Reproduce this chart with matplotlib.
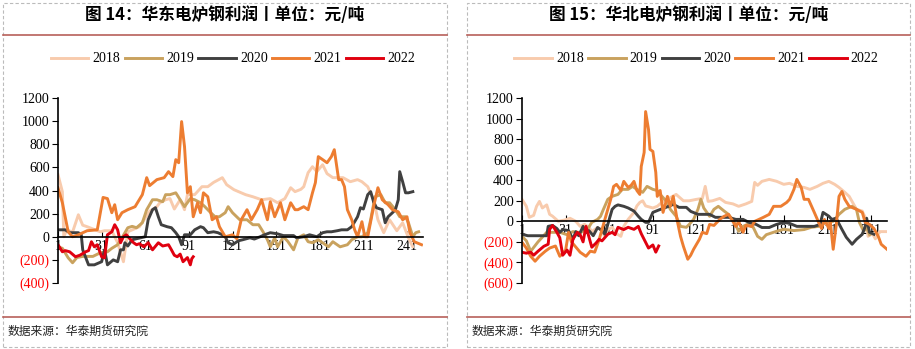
import matplotlib.pyplot as plt
from matplotlib.lines import Line2D
from matplotlib.patches import Rectangle

# ---- data: (day, profit) ----
years = ["2018", "2019", "2020", "2021", "2022"]
colors = ["#F8CBAD", "#C9A25E", "#404040", "#ED7D31", "#E0000F"]

# East China (华东)
east_2018 = [(1, 537), (4, 390), (5, 0), (7, 60), (11, 40), (15, 190), (18, 100), (21, 87), (30, 43),
             (33, 52), (38, 52), (42, -52), (46, -216), (49, 43), (57, 87), (64, 220), (69, 260),
             (71, 294), (75, 320), (78, 330), (81, 240), (85, 320), (88, 234), (90, 364), (95, 364),
             (100, 433), (104, 433), (108, 470), (114, 511), (117, 450), (122, 407), (130, 364),
             (135, 346), (141, 320), (147, 330), (152, 294), (157, 330), (161, 424), (164, 390),
             (168, 410), (170, 433), (173, 554), (176, 606), (179, 563), (183, 623), (186, 546),
             (190, 511), (197, 511), (202, 476), (207, 494), (210, 476), (214, 433), (218, 320),
             (221, 147), (225, 35), (229, 147), (234, 52), (238, 121), (242, -9), (245, -87)]
east_2019 = [(1, -87), (4, -100), (8, -182), (11, -225), (14, -180), (18, -170), (25, -170), (30, -139),
             (35, -130), (38, -100), (42, -69), (45, -9), (49, 78), (52, 90), (55, 78), (59, 121),
             (62, 234), (66, 320), (69, 320), (73, 303), (75, 364), (78, 364), (82, 380), (85, 320),
             (88, 260), (92, 330), (95, 320), (99, 294), (102, 260), (106, 208), (109, 173), (112, 173),
             (116, 208), (118, 260), (121, 208), (126, 147), (131, 147), (135, 104), (139, 104),
             (142, 43), (145, -26), (147, -87), (150, -9), (152, -87), (156, 0), (159, -40), (163, -113),
             (166, -9), (170, 17), (173, -43), (176, -52), (180, -26), (183, -52), (187, -87), (190, -43),
             (195, -87), (200, -69), (203, -26), (207, 0), (210, 0), (214, 35), (216, 147), (219, 346),
             (223, 364), (226, 294), (229, 294), (233, 234), (236, 173), (240, 173), (242, 121),
             (245, 0), (247, 35), (249, 43)]
east_2020 = [(1, 60), (6, 60), (9, 35), (15, 35), (17, 17), (18, -113), (22, -243), (26, -243), (31, -216),
             (33, -113), (35, -243), (39, -200), (42, -216), (44, -113), (46, -113), (47, -52), (49, -80),
             (52, -26), (55, -17), (61, 0), (63, 147), (66, 234), (68, 251), (70, 173), (72, 104),
             (76, 87), (79, 78), (82, 35), (84, 0), (86, -69), (88, 17), (92, 17), (95, 60), (99, 87),
             (101, 78), (104, 35), (108, 43), (111, 35), (114, 17), (116, 0), (118, -52), (121, -69),
             (125, -35), (128, -26), (133, -9), (136, -20), (140, 0), (143, 17), (147, 35), (152, 25),
             (156, 10), (159, 10), (163, 10), (165, -9), (170, 0), (174, 17), (179, 0), (183, 35),
             (186, 43), (189, 43), (193, 52), (196, 60), (200, 60), (203, 87), (207, 173), (209, 251),
             (211, 240), (214, 364), (216, 390), (218, 303), (220, 251), (224, 234), (226, 121),
             (228, 173), (231, 208), (233, 234), (235, 320), (236, 563), (238, 476), (240, 380),
             (242, 380), (245, 390)]
east_2021 = [(1, 424), (4, 294), (8, 43), (11, 0), (15, 17), (21, 52), (28, 60), (32, 340), (35, 330),
             (38, 208), (40, 277), (42, 147), (45, 208), (49, 234), (54, 260), (59, 364), (62, 511),
             (64, 442), (69, 494), (74, 511), (77, 563), (80, 520), (82, 667), (84, 640), (86, 996),
             (88, 780), (90, 380), (92, 433), (94, 173), (97, 294), (99, 208), (101, 380), (104, 346),
             (107, 147), (110, 173), (112, 87), (116, 0), (121, 17), (124, -17), (127, 147), (131, 234),
             (134, 147), (138, 234), (141, 320), (145, 147), (147, 303), (150, 173), (154, 294),
             (157, 147), (161, 294), (164, 234), (166, 234), (170, 260), (173, 234), (176, 380),
             (178, 468), (180, 693), (183, 667), (186, 640), (189, 693), (191, 753), (194, 494),
             (196, 494), (198, 433), (200, 234), (203, 147), (205, 60), (207, 0), (210, 130), (212, 0),
             (214, 0), (218, 260), (221, 424), (224, 320), (228, 277), (231, 234), (235, 216),
             (238, 147), (241, 173), (243, 35), (246, -43), (251, -69)]
east_2022 = [(1, -69), (4, -130), (6, -120), (9, -130), (13, -173), (16, -160), (20, -130), (22, -120),
             (24, -43), (26, -87), (28, -69), (31, -173), (33, -182), (35, 17), (38, 43), (40, 104),
             (42, 60), (44, -52), (46, 0), (48, 17), (51, -26), (53, -52), (55, -69), (57, -60),
             (60, -87), (63, -52), (66, -113), (70, -52), (73, -80), (77, -69), (79, -113), (81, -160),
             (83, -173), (85, -150), (87, -216), (90, -180), (92, -243), (93, -190), (94, -173)]

# North China (华北)
north_2018 = [(1, 214), (4, 146), (6, 39), (9, 58), (11, 146), (13, 194), (15, 130), (18, 160), (20, 68),
              (22, 50), (26, 0), (31, 15), (34, 30), (38, 0), (41, -49), (44, -30), (47, -58), (49, -100),
              (53, -60), (55, -80), (58, -146), (60, -80), (63, -58), (66, -120), (69, -146), (71, -49),
              (74, 19), (78, 87), (80, 150), (82, 184), (84, 200), (86, 150), (91, 130), (94, 146),
              (98, 194), (102, 223), (107, 262), (112, 200), (116, 200), (121, 214), (125, 223),
              (127, 340), (129, 194), (132, 200), (137, 223), (141, 184), (146, 170), (150, 146),
              (155, 170), (159, 194), (161, 379), (163, 350), (166, 389), (171, 408), (176, 390),
              (181, 360), (185, 370), (190, 340), (195, 330), (199, 311), (204, 340), (208, 370),
              (212, 389), (216, 360), (219, 330), (223, 282), (226, 243), (231, 117), (235, 100),
              (237, 39), (239, -146), (242, -120), (244, -170), (247, -100), (252, -100)]
north_2019 = [(1, -146), (4, -190), (7, -291), (12, -200), (18, -107), (27, -107), (32, -130), (36, -100),
              (41, -110), (46, -78), (49, -10), (53, 19), (55, 49), (57, 117), (60, 214), (63, 243),
              (67, 262), (70, 311), (74, 311), (77, 340), (80, 311), (84, 282), (87, 340), (91, 311),
              (94, 300), (96, 262), (100, 200), (103, 117), (107, 49), (110, -49), (114, -58), (116, -30),
              (119, 19), (122, 117), (124, 214), (126, 130), (130, 49), (133, 117), (136, 146),
              (140, 100), (143, 68), (147, -10), (150, -97), (153, -49), (156, -30), (160, -58),
              (163, -146), (166, -175), (169, -130), (176, -97), (181, -78), (188, -90), (195, -80),
              (200, -58), (205, -49), (210, -10), (215, 0), (219, 68), (223, 117), (228, 146),
              (231, 117), (233, -10), (236, -97), (238, -60), (240, -130)]
north_2020 = [(1, -126), (5, -140), (9, -140), (14, -140), (18, -140), (19, -49), (22, -40), (25, -70),
              (27, -107), (29, -80), (33, -90), (36, -175), (38, -100), (40, -140), (43, -49), (45, -110),
              (47, -90), (50, -140), (53, -60), (56, -90), (58, -126), (60, -30), (63, 117), (65, 146),
              (67, 160), (71, 146), (74, 130), (78, 100), (81, 49), (83, 19), (86, -10), (88, -10),
              (91, 87), (95, 110), (100, 136), (105, 165), (109, 136), (114, 136), (117, 97), (122, 68),
              (126, 68), (130, 68), (134, 39), (139, 39), (143, 39), (148, 19), (153, 19), (157, -10),
              (162, -30), (166, -60), (171, -60), (176, -30), (181, -10), (185, -20), (190, -49),
              (197, -49), (202, -49), (206, -30), (208, 87), (212, 50), (214, 19), (217, 30), (221, -78),
              (224, -155), (228, -223), (231, -175), (235, -126), (237, -49), (238, 30), (240, -107),
              (243, -126)]
north_2021 = [(1, -204), (4, -260), (7, -340), (10, -388), (13, -340), (17, -291), (20, -260), (24, -240),
              (27, -340), (31, -280), (33, -107), (35, -200), (38, -250), (41, -301), (45, -340),
              (48, -290), (51, -300), (54, -180), (56, -80), (58, 19), (62, 214), (64, 340), (66, 360),
              (69, 301), (71, 389), (74, 330), (76, 350), (78, 389), (80, 300), (82, 262), (83, 534),
              (85, 670), (86, 1068), (88, 893), (89, 700), (91, 680), (93, 476), (94, 243), (96, 300),
              (98, 87), (101, 243), (103, 146), (105, 243), (108, -10), (110, -146), (112, -243),
              (115, -369), (117, -330), (119, -272), (123, -175), (125, -107), (128, -120), (130, -30),
              (133, -40), (137, 19), (140, 49), (143, 68), (146, 0), (148, -49), (150, 0), (153, -107),
              (155, -40), (159, -49), (161, 0), (164, 19), (167, 39), (171, 68), (174, 146), (179, 146),
              (183, 184), (185, 214), (188, 311), (190, 408), (193, 330), (195, 214), (198, 214),
              (202, 87), (205, -10), (207, -70), (209, 19), (212, -70), (213, 0), (215, -272),
              (217, -49), (219, 243), (221, 291), (223, 214), (226, 146), (231, 117), (235, 87),
              (237, -10), (240, -30), (243, -70), (246, -146), (248, -223), (252, -272)]
north_2022 = [(1, -301), (4, -310), (7, -300), (9, -330), (12, -291), (16, -243), (19, -223), (20, -78),
              (22, -40), (25, -107), (27, -160), (29, -330), (32, -280), (34, -330), (36, -175),
              (39, -107), (41, -130), (43, -200), (45, -49), (47, -150), (49, -252), (52, -210),
              (54, -175), (56, -190), (60, -126), (63, -107), (65, -130), (67, -58), (71, -80), (74, -58),
              (78, -78), (81, -49), (83, -120), (86, -204), (88, -260), (91, -230), (93, -300), (95, -240)]

xticks = [1, 31, 61, 91, 121, 151, 181, 211, 241]
east_yticks = list(range(-400, 1201, 200))
north_yticks = list(range(-600, 1201, 200))

plt.rcParams['font.family'] = ['Liberation Serif', 'Noto Sans CJK SC']
CJK = ['Noto Sans CJK SC', 'DejaVu Sans']

W, H = 915, 349
fig = plt.figure(figsize=(W / 100, H / 100), dpi=100)


def fx(px):
    return px / W


def fy(py):
    return 1 - py / H


def yfmt(v):
    return "(%d)" % -v if v < 0 else "%d" % v


def panel(x0, x1, title, ax_px, ylim, yticks, xlim, series):
    # dashed frame, title, separator lines, source
    fig.add_artist(Rectangle((fx(x0), fy(347)), fx(x1 - x0), fy(3) - fy(347), fill=False,
                             edgecolor="#BBBBBB", linestyle=(0, (3, 2)), linewidth=0.8))
    fig.add_artist(Line2D([fx(x0), fx(x1)], [fy(35), fy(35)], color="#B8605A", linewidth=1.2))
    fig.add_artist(Line2D([fx(x0), fx(x1)], [fy(317), fy(317)], color="#B8605A", linewidth=1.2))
    fig.text(fx((x0 + x1) / 2), fy(15), title, ha="center", va="center", fontsize=12,
             fontweight="bold", family=CJK)
    fig.text(fx(x0 + 5), fy(331), "数据来源：华泰期货研究院", ha="left", va="center",
             fontsize=8.5, family=CJK, color="#222222")

    left, right = ax_px
    ax = fig.add_axes([fx(left), fy(283), fx(right - left), fy(98) - fy(283)])
    handles = []
    for yr, c, data in zip(years, colors, series):
        d = [p[0] for p in data]
        v = [p[1] for p in data]
        h, = ax.plot(d, v, color=c, linewidth=2.1, label=yr)
        handles.append(h)

    ax.set_xlim(*xlim)
    ax.set_ylim(*ylim)
    for s in ["top", "right"]:
        ax.spines[s].set_visible(False)
    ax.spines["bottom"].set_position(("data", 0))
    ax.spines["bottom"].set_linewidth(1.2)
    ax.spines["left"].set_linewidth(1.2)
    ax.set_xticks(xticks)
    ax.set_xticklabels([str(t) for t in xticks], fontsize=10)
    ax.tick_params(axis="x", direction="in", length=4, pad=2)
    ax.set_yticks(yticks)
    ax.set_yticklabels([yfmt(v) for v in yticks], fontsize=10)
    ax.tick_params(axis="y", direction="out", length=4, pad=2)
    for lab, v in zip(ax.get_yticklabels(), yticks):
        if v < 0:
            lab.set_color("#FF0000")

    fig.legend(handles=handles, loc="center", bbox_to_anchor=(fx((x0 + x1) / 2 + 8), fy(59)),
               ncol=5, frameon=False, fontsize=10, handlelength=2.7, handletextpad=0.3,
               columnspacing=0.3)
    return ax


panel(3, 447, "图 14：华东电炉钢利润丨单位：元/吨", (58, 423), (-400, 1200), east_yticks, (1, 252),
      [east_2018, east_2019, east_2020, east_2021, east_2022])
panel(467, 910, "图 15：华北电炉钢利润丨单位：元/吨", (522, 887), (-600, 1200), north_yticks, (1, 252),
      [north_2018, north_2019, north_2020, north_2021, north_2022])

fig.savefig("out.png", dpi=100)
